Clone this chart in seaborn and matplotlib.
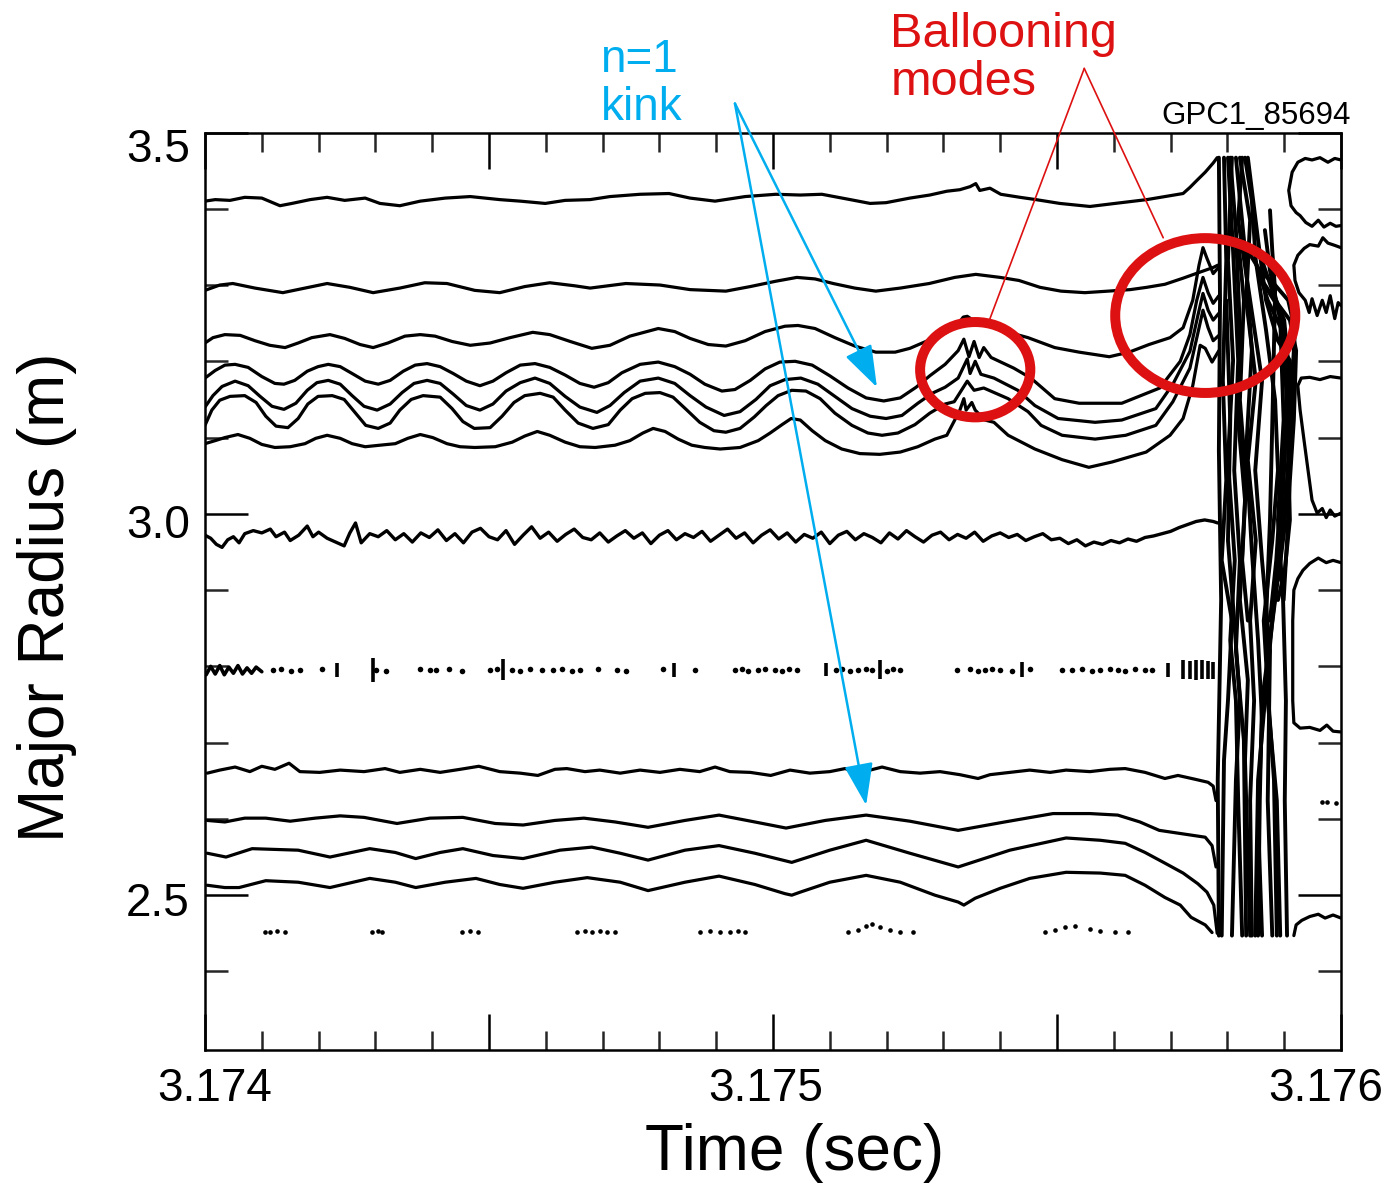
import numpy as np
import pandas as pd
import matplotlib
matplotlib.use("Agg")
import matplotlib.pyplot as plt
import matplotlib.transforms as mtransforms
from matplotlib.patches import Ellipse
from matplotlib.ticker import FixedLocator, FixedFormatter
import seaborn as sns

# ---------------------------------------------------------------------------
# ECE contour traces, shot 85694.  Time is given in microseconds after T0,
# major radius in metres.
# ---------------------------------------------------------------------------
T0 = 3.174

top_t = [0, 18, 44, 70, 100, 132, 153, 185, 215, 246, 282, 308, 343, 379, 423, 467, 519, 555, 599, 634,
         678, 713, 766, 817, 854, 898, 951, 1005, 1048, 1086, 1136, 1171, 1199, 1241, 1276, 1306, 1329,
         1347, 1357, 1364, 1382, 1401, 1435, 1463, 1505, 1558, 1602, 1658, 1690, 1722, 1734, 1746, 1761,
         1775, 1782]
top_r = [3.410, 3.412, 3.411, 3.415, 3.414, 3.404, 3.407, 3.412, 3.415, 3.411, 3.414, 3.407, 3.404, 3.410,
         3.414, 3.416, 3.412, 3.410, 3.407, 3.411, 3.412, 3.416, 3.419, 3.420, 3.414, 3.410, 3.416, 3.419,
         3.418, 3.419, 3.412, 3.407, 3.408, 3.414, 3.418, 3.423, 3.425, 3.429, 3.433, 3.424, 3.427, 3.419,
         3.415, 3.412, 3.407, 3.403, 3.407, 3.412, 3.416, 3.420, 3.428, 3.437, 3.448, 3.460, 3.467]

second_t = [0, 26, 49, 88, 137, 176, 215, 255, 296, 343, 387, 426, 475, 519, 563, 607, 651, 678, 741, 801,
            854, 917, 960, 1005, 1042, 1074, 1106, 1144, 1181, 1224, 1275, 1320, 1357, 1400, 1433, 1470,
            1507, 1549, 1590, 1629, 1658, 1690, 1722, 1752, 1775, 1783]
second_r = [3.293, 3.300, 3.302, 3.296, 3.290, 3.296, 3.302, 3.297, 3.290, 3.296, 3.303, 3.302, 3.293,
            3.290, 3.298, 3.303, 3.299, 3.296, 3.302, 3.300, 3.294, 3.292, 3.298, 3.305, 3.310, 3.308,
            3.302, 3.296, 3.292, 3.296, 3.302, 3.310, 3.314, 3.310, 3.306, 3.297, 3.292, 3.290, 3.292,
            3.294, 3.297, 3.301, 3.309, 3.317, 3.323, 3.326]

kink_a_t = [0, 14, 35, 62, 88, 114, 141, 164, 188, 220, 246, 273, 296, 322, 352, 379, 405, 435, 467, 502,
            537, 577, 607, 643, 681, 713, 748, 798, 827, 854, 886, 917, 951, 986, 1021, 1044, 1074, 1109,
            1144, 1181, 1215, 1241, 1269, 1306, 1326, 1335, 1342, 1350, 1364, 1400, 1449, 1496, 1539,
            1592, 1627, 1662, 1699, 1722, 1739, 1750, 1757, 1764, 1775, 1783]
kink_a_r = [3.224, 3.231, 3.235, 3.234, 3.227, 3.221, 3.218, 3.224, 3.231, 3.235, 3.230, 3.222, 3.218,
            3.224, 3.233, 3.235, 3.233, 3.226, 3.221, 3.224, 3.231, 3.238, 3.235, 3.226, 3.217, 3.221,
            3.233, 3.243, 3.239, 3.230, 3.222, 3.220, 3.227, 3.239, 3.246, 3.247, 3.243, 3.231, 3.220,
            3.212, 3.212, 3.217, 3.226, 3.238, 3.249, 3.258, 3.259, 3.255, 3.251, 3.241, 3.231, 3.218,
            3.212, 3.206, 3.212, 3.222, 3.231, 3.244, 3.280, 3.326, 3.349, 3.335, 3.315, 3.322]

kink_b_t = [0, 18, 35, 53, 76, 100, 123, 139, 158, 180, 199, 217, 238, 259, 282, 305, 326, 349, 370, 391,
            414, 437, 460, 484, 507, 530, 555, 581, 607, 634, 660, 685, 710, 734, 766, 798, 827, 854, 880,
            910, 933, 960, 986, 1012, 1039, 1069, 1100, 1132, 1164, 1195, 1224, 1252, 1276, 1303, 1326,
            1336, 1345, 1354, 1363, 1371, 1384, 1424, 1454, 1496, 1539, 1614, 1681, 1717, 1734, 1746,
            1757, 1766, 1775, 1785]
kink_b_r = [3.178, 3.188, 3.195, 3.196, 3.192, 3.180, 3.171, 3.170, 3.175, 3.187, 3.193, 3.196, 3.193,
            3.184, 3.174, 3.170, 3.175, 3.187, 3.195, 3.197, 3.193, 3.184, 3.174, 3.168, 3.174, 3.185,
            3.195, 3.197, 3.192, 3.182, 3.171, 3.166, 3.172, 3.185, 3.196, 3.199, 3.193, 3.183, 3.170,
            3.161, 3.163, 3.175, 3.190, 3.199, 3.200, 3.195, 3.181, 3.165, 3.152, 3.148, 3.152, 3.166,
            3.181, 3.196, 3.214, 3.229, 3.206, 3.226, 3.205, 3.218, 3.205, 3.191, 3.178, 3.151, 3.145,
            3.145, 3.165, 3.200, 3.235, 3.280, 3.310, 3.290, 3.276, 3.286]

kink_c_t = [0, 14, 30, 53, 76, 97, 118, 139, 160, 180, 197, 217, 238, 259, 280, 303, 326, 347, 368, 391,
            414, 437, 460, 484, 507, 530, 555, 581, 607, 634, 660, 690, 713, 738, 766, 798, 827, 854, 882,
            914, 942, 970, 995, 1021, 1049, 1079, 1109, 1139, 1171, 1199, 1227, 1255, 1280, 1303, 1326,
            1342, 1347, 1356, 1366, 1389, 1431, 1461, 1502, 1567, 1614, 1674, 1704, 1734, 1748, 1757,
            1766, 1775, 1785]
kink_c_r = [3.140, 3.155, 3.167, 3.174, 3.168, 3.154, 3.141, 3.137, 3.145, 3.162, 3.172, 3.175, 3.170,
            3.155, 3.141, 3.136, 3.144, 3.159, 3.171, 3.175, 3.171, 3.157, 3.142, 3.136, 3.144, 3.161,
            3.172, 3.178, 3.171, 3.154, 3.140, 3.133, 3.142, 3.159, 3.174, 3.178, 3.171, 3.155, 3.140,
            3.129, 3.134, 3.150, 3.168, 3.176, 3.178, 3.170, 3.154, 3.138, 3.128, 3.125, 3.129, 3.145,
            3.158, 3.166, 3.178, 3.203, 3.184, 3.200, 3.183, 3.178, 3.162, 3.142, 3.125, 3.120, 3.123,
            3.138, 3.170, 3.213, 3.260, 3.289, 3.267, 3.254, 3.263]

kink_d_t = [0, 12, 26, 44, 70, 90, 107, 125, 146, 164, 181, 199, 224, 245, 264, 283, 305, 326, 343, 363,
            384, 414, 435, 454, 474, 502, 523, 544, 563, 590, 613, 634, 657, 683, 710, 731, 752, 775, 801,
            824, 847, 871, 896, 917, 942, 967, 988, 1009, 1033, 1058, 1083, 1109, 1139, 1167, 1192, 1220,
            1250, 1276, 1303, 1319, 1342, 1354, 1371, 1414, 1449, 1472, 1509, 1567, 1621, 1674, 1704,
            1734, 1748, 1757, 1766, 1775, 1785]
kink_d_r = [3.116, 3.136, 3.149, 3.154, 3.155, 3.146, 3.128, 3.115, 3.113, 3.125, 3.144, 3.154, 3.155,
            3.150, 3.133, 3.116, 3.112, 3.119, 3.136, 3.150, 3.155, 3.153, 3.138, 3.121, 3.112, 3.113,
            3.128, 3.146, 3.155, 3.158, 3.153, 3.136, 3.119, 3.112, 3.117, 3.136, 3.151, 3.158, 3.159,
            3.153, 3.137, 3.120, 3.109, 3.107, 3.112, 3.127, 3.142, 3.155, 3.162, 3.161, 3.151, 3.132,
            3.116, 3.106, 3.103, 3.106, 3.117, 3.132, 3.144, 3.147, 3.174, 3.162, 3.165, 3.151, 3.134,
            3.116, 3.103, 3.098, 3.103, 3.116, 3.147, 3.191, 3.237, 3.267, 3.244, 3.227, 3.234]

kink_e_t = [0, 18, 35, 58, 79, 100, 123, 150, 176, 195, 215, 238, 259, 282, 308, 335, 357, 379, 401, 426,
            449, 475, 511, 541, 563, 585, 607, 634, 660, 687, 722, 748, 771, 789, 810, 833, 857, 880, 907,
            942, 974, 995, 1016, 1032, 1048, 1069, 1092, 1121, 1153, 1188, 1224, 1255, 1285, 1306, 1320,
            1329, 1336, 1340, 1350, 1356, 1373, 1389, 1414, 1461, 1509, 1556, 1597, 1657, 1699, 1722,
            1739, 1752, 1761, 1773, 1785]
kink_e_r = [3.092, 3.096, 3.100, 3.104, 3.099, 3.091, 3.087, 3.088, 3.092, 3.099, 3.103, 3.099, 3.092,
            3.088, 3.090, 3.092, 3.099, 3.104, 3.100, 3.092, 3.088, 3.087, 3.088, 3.094, 3.102, 3.108,
            3.103, 3.094, 3.088, 3.087, 3.090, 3.096, 3.106, 3.112, 3.108, 3.098, 3.090, 3.087, 3.085,
            3.087, 3.096, 3.106, 3.117, 3.125, 3.123, 3.109, 3.096, 3.085, 3.079, 3.078, 3.081, 3.088,
            3.098, 3.103, 3.123, 3.136, 3.151, 3.136, 3.146, 3.136, 3.123, 3.120, 3.103, 3.085, 3.071,
            3.061, 3.068, 3.081, 3.103, 3.125, 3.168, 3.221, 3.217, 3.199, 3.214]

axis_t = [0, 10, 20, 30, 40, 50, 60, 70, 85, 100, 115, 125, 140, 150, 165, 180, 190, 200, 215, 230, 245,
          255, 265, 275, 290, 305, 320, 335, 350, 365, 380, 395, 410, 425, 440, 455, 470, 485, 500, 515,
          530, 545, 560, 575, 590, 605, 620, 635, 650, 665, 680, 695, 710, 725, 740, 755, 770, 785, 800,
          815, 830, 845, 860, 875, 890, 905, 920, 935, 950, 965, 980, 995, 1010, 1025, 1040, 1055, 1070,
          1085, 1100, 1115, 1130, 1145, 1160, 1175, 1190, 1205, 1220, 1235, 1250, 1265, 1280, 1295, 1310,
          1325, 1340, 1355, 1370, 1385, 1400, 1415, 1430, 1445, 1460, 1475, 1490, 1505, 1520, 1535, 1550,
          1565, 1580, 1595, 1610, 1625, 1640, 1655, 1670, 1685, 1700, 1715, 1730, 1745, 1760, 1775, 1783]
axis_r = [2.972, 2.968, 2.960, 2.956, 2.966, 2.970, 2.962, 2.974, 2.978, 2.975, 2.980, 2.970, 2.976,
          2.965, 2.972, 2.984, 2.970, 2.976, 2.968, 2.963, 2.958, 2.975, 2.988, 2.962, 2.974, 2.970,
          2.978, 2.966, 2.974, 2.963, 2.975, 2.969, 2.979, 2.965, 2.974, 2.962, 2.976, 2.981, 2.970,
          2.966, 2.978, 2.960, 2.972, 2.983, 2.968, 2.976, 2.964, 2.973, 2.980, 2.969, 2.966, 2.975,
          2.963, 2.971, 2.978, 2.968, 2.975, 2.961, 2.972, 2.978, 2.966, 2.974, 2.969, 2.977, 2.964,
          2.972, 2.980, 2.968, 2.975, 2.962, 2.972, 2.979, 2.967, 2.975, 2.963, 2.973, 2.968, 2.976,
          2.961, 2.972, 2.977, 2.966, 2.974, 2.969, 2.962, 2.975, 2.967, 2.978, 2.970, 2.963, 2.972,
          2.976, 2.966, 2.973, 2.968, 2.976, 2.964, 2.971, 2.975, 2.969, 2.973, 2.965, 2.970, 2.974,
          2.966, 2.968, 2.961, 2.966, 2.958, 2.963, 2.960, 2.965, 2.962, 2.967, 2.964, 2.969, 2.971,
          2.974, 2.977, 2.982, 2.986, 2.990, 2.992, 2.990, 2.988]

low1_t = [4, 26, 53, 79, 100, 123, 148, 167, 202, 238, 280, 317, 343, 379, 414, 449, 482, 519, 555, 586,
          616, 637, 669, 695, 731, 766, 801, 836, 871, 898, 924, 960, 996, 1030, 1065, 1100, 1127, 1146,
          1171, 1192, 1224, 1259, 1294, 1329, 1361, 1382, 1417, 1452, 1488, 1516, 1558, 1593, 1620, 1655,
          1690, 1713, 1743, 1766, 1775, 1780]
low1_r = [2.660, 2.664, 2.668, 2.662, 2.669, 2.665, 2.673, 2.662, 2.661, 2.664, 2.662, 2.666, 2.661,
          2.665, 2.661, 2.665, 2.669, 2.662, 2.660, 2.657, 2.665, 2.666, 2.662, 2.664, 2.660, 2.664,
          2.661, 2.665, 2.662, 2.668, 2.662, 2.661, 2.657, 2.664, 2.660, 2.662, 2.666, 2.661, 2.664,
          2.668, 2.662, 2.660, 2.662, 2.658, 2.653, 2.658, 2.661, 2.664, 2.661, 2.664, 2.662, 2.665,
          2.666, 2.661, 2.653, 2.657, 2.652, 2.648, 2.643, 2.624]

low2_t = [4, 35, 70, 107, 150, 194, 238, 280, 338, 396, 454, 511, 560, 616, 667, 722, 780, 845, 905, 968,
          1023, 1092, 1164, 1241, 1326, 1408, 1493, 1558, 1607, 1646, 1680, 1725, 1761, 1773, 1780]
low2_r = [2.598, 2.596, 2.601, 2.601, 2.597, 2.601, 2.604, 2.602, 2.594, 2.601, 2.602, 2.594, 2.592,
          2.598, 2.601, 2.596, 2.589, 2.598, 2.605, 2.596, 2.588, 2.598, 2.605, 2.597, 2.585, 2.596,
          2.607, 2.607, 2.605, 2.596, 2.585, 2.580, 2.576, 2.565, 2.537]

low3_t = [4, 37, 83, 123, 164, 220, 290, 335, 371, 414, 454, 507, 560, 625, 681, 731, 780, 845, 905, 968,
          1033, 1100, 1164, 1241, 1326, 1417, 1516, 1576, 1620, 1655, 1690, 1722, 1748, 1764, 1776, 1782]
low3_r = [2.555, 2.550, 2.561, 2.560, 2.559, 2.550, 2.561, 2.556, 2.548, 2.556, 2.561, 2.552, 2.548,
          2.559, 2.563, 2.555, 2.546, 2.559, 2.565, 2.555, 2.543, 2.559, 2.572, 2.555, 2.537, 2.559,
          2.575, 2.572, 2.568, 2.556, 2.542, 2.529, 2.515, 2.504, 2.487, 2.450]

low4_t = [4, 35, 60, 107, 164, 220, 290, 335, 371, 423, 477, 519, 560, 616, 673, 731, 780, 845, 905, 968,
          1021, 1033, 1048, 1100, 1164, 1224, 1285, 1326, 1336, 1356, 1400, 1452, 1516, 1576, 1620, 1655,
          1690, 1717, 1736, 1761, 1773]
low4_r = [2.513, 2.510, 2.510, 2.519, 2.517, 2.510, 2.522, 2.517, 2.510, 2.517, 2.522, 2.514, 2.509,
          2.517, 2.523, 2.517, 2.506, 2.517, 2.525, 2.514, 2.502, 2.500, 2.504, 2.517, 2.526, 2.517,
          2.500, 2.491, 2.487, 2.496, 2.509, 2.522, 2.530, 2.529, 2.526, 2.513, 2.497, 2.487, 2.471,
          2.461, 2.451]

# broken contour near 2.8 m: small islands and a short ragged run at the left edge
row28_run_t = [2, 10, 18, 26, 34, 42, 50, 58, 66, 74, 82, 90, 100]
row28_run_r = [2.789, 2.800, 2.790, 2.801, 2.789, 2.799, 2.791, 2.801, 2.790, 2.798, 2.791, 2.799, 2.793]
row28_dot_t = [120, 134, 151, 167, 206, 301, 319, 379, 396, 407, 430, 452, 502, 514, 540, 555, 572, 593,
               613, 629, 646, 660, 692, 725, 741, 806, 863, 933, 945, 956, 974, 986, 1004, 1016, 1029,
               1042, 1111, 1121, 1136, 1150, 1164, 1174, 1201, 1211, 1224, 1324, 1347, 1361, 1373, 1386,
               1400, 1421, 1452, 1509, 1526, 1544, 1562, 1576, 1593, 1607, 1620, 1637, 1655, 1667]
row28_dot_r = [2.795, 2.796, 2.794, 2.795, 2.796, 2.795, 2.794, 2.796, 2.795, 2.795, 2.796, 2.794, 2.795,
               2.796, 2.795, 2.794, 2.796, 2.795, 2.795, 2.796, 2.794, 2.795, 2.796, 2.795, 2.794, 2.796,
               2.795, 2.795, 2.796, 2.794, 2.795, 2.796, 2.795, 2.794, 2.796, 2.795, 2.795, 2.796, 2.794,
               2.795, 2.796, 2.795, 2.794, 2.796, 2.795, 2.795, 2.796, 2.794, 2.795, 2.796, 2.795, 2.794,
               2.796, 2.795, 2.795, 2.796, 2.794, 2.795, 2.796, 2.795, 2.794, 2.796, 2.795, 2.795]
row28_bar_t = [232, 296, 525, 825, 1093, 1188, 1438, 1695, 1722, 1734, 1745, 1755, 1766, 1775]
row28_bar_lo = [2.786, 2.780, 2.782, 2.786, 2.787, 2.784, 2.786, 2.786, 2.783, 2.784, 2.782, 2.783,
                2.784, 2.783]
row28_bar_hi = [2.805, 2.811, 2.810, 2.805, 2.804, 2.808, 2.806, 2.804, 2.808, 2.807, 2.809, 2.808,
                2.807, 2.806]

# broken contour near 2.45 m
row245_t = [106, 114, 127, 141, 294, 305, 312, 452, 467, 481, 655, 669, 681, 695, 708, 722, 871, 889, 907,
            924, 938, 951, 1132, 1150, 1164, 1174, 1188, 1206, 1224, 1246, 1479, 1496, 1514, 1532, 1558,
            1576, 1602, 1625]
row245_r = [2.452, 2.452, 2.453, 2.452, 2.452, 2.453, 2.452, 2.452, 2.453, 2.452, 2.452, 2.453, 2.452,
            2.453, 2.452, 2.452, 2.452, 2.453, 2.452, 2.452, 2.453, 2.452, 2.452, 2.454, 2.459, 2.462,
            2.458, 2.454, 2.452, 2.452, 2.452, 2.454, 2.458, 2.460, 2.455, 2.453, 2.452, 2.452]

# crash phase: contours sweeping across the whole profile
crash_t = [
    [1785, 1787, 1785, 1789, 1783, 1785],
    [1794, 1798, 1792, 1798, 1790, 1808, 1801, 1794, 1790],
    [1805, 1815, 1822, 1819, 1831, 1822, 1836, 1831, 1840],
    [1815, 1831, 1843, 1833, 1843, 1854, 1861, 1854, 1861],
    [1826, 1819, 1840, 1861, 1849, 1861, 1875, 1871, 1879],
    [1836, 1857, 1884, 1907, 1919, 1914, 1907, 1910, 1901, 1889],
    [1849, 1871, 1896, 1905, 1899, 1893, 1879, 1866, 1854, 1849],
    [1866, 1875, 1893, 1899, 1889, 1898, 1903, 1901, 1905],
    [1875, 1879, 1884, 1880, 1875, 1868, 1871, 1887, 1893],
    [1808, 1801, 1810, 1801, 1813, 1805, 1815, 1819, 1826],
    [1831, 1843, 1850, 1868, 1884, 1889, 1879, 1864, 1871, 1882, 1887],
    [1801, 1810, 1819, 1812, 1822, 1815, 1829, 1833],
    [1836, 1854, 1868, 1889, 1910, 1914, 1903, 1893, 1875, 1861, 1857, 1854],
    [1861, 1884, 1910, 1921, 1917, 1910, 1905, 1899],
    [1822, 1840, 1833, 1850, 1836, 1850, 1840, 1847, 1840, 1843],
    [1798, 1805, 1801, 1812, 1822, 1815, 1808],
    [1861, 1879, 1900, 1910, 1907, 1900, 1889],
    [1871, 1893, 1905, 1903, 1893, 1886, 1875],
    [1819, 1829, 1822, 1833, 1826, 1836],
]
crash_r = [
    [3.467, 3.280, 3.083, 2.887, 2.651, 2.447],
    [3.467, 3.332, 3.175, 3.044, 2.939, 2.860, 2.755, 2.677, 2.447],
    [3.467, 3.372, 3.241, 3.123, 3.018, 2.887, 2.782, 2.677, 2.447],
    [3.467, 3.345, 3.214, 3.083, 2.952, 2.834, 2.729, 2.598, 2.447],
    [3.467, 3.385, 3.280, 3.175, 3.057, 2.939, 2.821, 2.624, 2.447],
    [3.345, 3.319, 3.300, 3.280, 3.241, 3.175, 3.083, 2.992, 2.926, 2.887],
    [3.332, 3.280, 3.241, 3.149, 3.044, 2.952, 2.860, 2.755, 2.651, 2.447],
    [3.372, 3.319, 3.254, 3.123, 2.992, 2.887, 2.755, 2.624, 2.447],
    [3.398, 3.345, 3.293, 3.149, 2.992, 2.860, 2.755, 2.624, 2.447],
    [3.467, 3.332, 3.201, 3.070, 2.939, 2.834, 2.755, 2.624, 2.447],
    [3.467, 3.411, 3.332, 3.241, 3.149, 3.057, 2.965, 2.860, 2.769, 2.651, 2.447],
    [3.467, 3.345, 3.201, 3.057, 2.939, 2.821, 2.703, 2.447],
    [3.467, 3.359, 3.280, 3.227, 3.201, 3.123, 3.018, 2.939, 2.834, 2.755, 2.624, 2.447],
    [3.306, 3.280, 3.254, 3.214, 3.123, 3.044, 2.965, 2.887],
    [3.467, 3.385, 3.280, 3.175, 3.070, 2.965, 2.860, 2.755, 2.624, 2.447],
    [3.280, 3.123, 2.965, 2.860, 2.755, 2.651, 2.447],
    [3.332, 3.293, 3.254, 3.175, 3.070, 2.978, 2.913],
    [3.293, 3.267, 3.214, 3.109, 3.018, 2.939, 2.860],
    [3.359, 3.280, 3.149, 3.044, 2.939, 2.860],
]

# recovered contours after the crash
post_t = [
    [2000, 1989, 1977, 1963, 1949, 1937, 1924, 1914, 1908, 1912, 1921, 1928, 1938, 1949, 1960, 1970, 1981,
     1991, 2000],
    [2000, 1989, 1977, 1968, 1960, 1945, 1935, 1924, 1917, 1919, 1926, 1937, 1944, 1949, 1958, 1967, 1974,
     1981, 1989, 1995, 2000],
    [2000, 1981, 1963, 1945, 1930, 1924, 1928, 1935, 1942, 1949, 1958, 1967, 1974, 1981, 1989, 2000],
    [2000, 1986, 1974, 1960, 1945, 1933, 1924, 1917, 1915, 1915, 1917, 1928, 1945, 1963, 1975, 1986, 2000],
    [2000, 1986, 1972, 1960, 1945, 1931, 1921, 1917],
]
post_r = [
    [3.464, 3.466, 3.461, 3.467, 3.464, 3.466, 3.461, 3.448, 3.424, 3.404, 3.395, 3.391, 3.382, 3.377,
     3.385, 3.376, 3.381, 3.377, 3.378],
    [3.349, 3.352, 3.355, 3.362, 3.351, 3.353, 3.348, 3.339, 3.326, 3.306, 3.290, 3.280, 3.264, 3.282,
     3.260, 3.280, 3.264, 3.286, 3.256, 3.277, 3.273],
    [3.178, 3.180, 3.176, 3.179, 3.178, 3.168, 3.136, 3.096, 3.057, 3.018, 3.001, 3.007, 2.995, 3.005,
     2.997, 3.001],
    [2.936, 2.939, 2.936, 2.942, 2.935, 2.926, 2.915, 2.900, 2.860, 2.755, 2.726, 2.719, 2.720, 2.716,
     2.723, 2.715, 2.714],
    [2.470, 2.474, 2.470, 2.475, 2.472, 2.467, 2.461, 2.447],
]
post_dot_t = [1967, 1975, 1991]
post_dot_r = [2.622, 2.622, 2.621]

# annotation geometry (time in microseconds after T0, radius in m)
kink_from = (933, 3.538)
kink_tips = [(1183, 3.166), (1164, 2.618)]
balloon_from = (1548, 3.584)
balloon_tips = [(1382, 3.256), (1687, 3.362)]
balloon_rings = [  # centre time, centre radius, width (us), height (m)
    (1356, 3.189, 194, 0.125),
    (1761, 3.260, 317, 0.203),
]

BLUE = "#00AEEF"
RED = "#DD1111"
INK = "black"


def sec(us):
    return T0 + np.asarray(us, dtype=float) * 1e-6


def trace(ax, t_us, r, lw=2.3):
    df = pd.DataFrame({"time": sec(t_us), "radius": np.asarray(r, dtype=float)})
    sns.lineplot(data=df, x="time", y="radius", sort=False, estimator=None, color=INK,
                 linewidth=lw, legend=False, ax=ax)


sns.set_style("white")
plt.rcParams["font.family"] = ["Liberation Sans", "DejaVu Sans"]

fig = plt.figure(figsize=(13.91, 11.84), dpi=100)
ax = fig.add_axes([205 / 1391, 1 - 1050 / 1184, 1136 / 1391, 917.5 / 1184])

for t_us, r in [(top_t, top_r), (second_t, second_r), (kink_a_t, kink_a_r), (kink_b_t, kink_b_r),
                (kink_c_t, kink_c_r), (kink_d_t, kink_d_r), (kink_e_t, kink_e_r),
                (low1_t, low1_r), (low2_t, low2_r), (low3_t, low3_r), (low4_t, low4_r)]:
    trace(ax, t_us, r)
trace(ax, axis_t, axis_r, lw=2.4)
trace(ax, row28_run_t, row28_run_r, lw=2.6)
for t_us, r in zip(crash_t, crash_r):
    trace(ax, t_us, r, lw=2.8)
for t_us, r in zip(post_t, post_r):
    trace(ax, t_us, r)

sns.scatterplot(x=sec(row28_dot_t), y=row28_dot_r, s=16, color=INK, marker="o", linewidth=0, ax=ax,
                legend=False)
ax.vlines(sec(row28_bar_t), row28_bar_lo, row28_bar_hi, color=INK, linewidth=2.6)
sns.scatterplot(x=sec(row245_t), y=row245_r, s=11, color=INK, marker="o", linewidth=0, ax=ax,
                legend=False)
sns.scatterplot(x=sec(post_dot_t), y=post_dot_r, s=11, color=INK, marker="o", linewidth=0, ax=ax,
                legend=False)

# axes, ticks and labels
ax.set_xlim(3.174, 3.176)
ax.set_ylim(2.297, 3.5)
ax.xaxis.set_major_locator(FixedLocator([3.174, 3.1745, 3.175, 3.1755, 3.176]))
ax.xaxis.set_major_formatter(FixedFormatter(["3.174", "", "3.175", "", "3.176"]))
ax.xaxis.set_minor_locator(FixedLocator([3.174 + k * 1e-4 for k in range(1, 20)]))
ax.yaxis.set_major_locator(FixedLocator([2.5, 3.0, 3.5]))
ax.yaxis.set_major_formatter(FixedFormatter(["2.5", "3.0", "3.5"]))
ax.yaxis.set_minor_locator(FixedLocator([2.4, 2.6, 2.7, 2.8, 2.9, 3.1, 3.2, 3.3, 3.4]))

ax.tick_params(axis="x", which="major", direction="in", length=26, width=1.8, top=True, bottom=True,
               labelsize=33, pad=12, colors=INK)
ax.tick_params(axis="x", which="minor", direction="in", length=13.5, width=1.8, top=True, bottom=True)
ax.tick_params(axis="y", which="major", direction="in", length=31, width=1.8, left=True, right=True,
               labelsize=33, pad=11, colors=INK)
ax.tick_params(axis="y", which="minor", direction="in", length=16.5, width=1.8, left=True, right=True)
for side in ax.spines.values():
    side.set_linewidth(1.8)
    side.set_color(INK)

ax.set_xlabel("Time (sec)", fontsize=46, color=INK)
ax.set_ylabel("Major Radius (m)", fontsize=46, color=INK)
ax.xaxis.set_label_coords(0.519, -0.080)
ax.yaxis.set_label_coords(-0.1127, 0.4937)

# nudge the end labels so they sit inside the frame edges
x_shift_px = [10, 0, -7, 0, -15]
for tick, dx in zip(ax.xaxis.get_major_ticks(), x_shift_px):
    tick.label1.set_transform(tick.label1.get_transform()
                              + mtransforms.ScaledTranslation(dx / 100, 0, fig.dpi_scale_trans))
y_shift_px = [-4, -7, -12]
for tick, dy in zip(ax.yaxis.get_major_ticks(), y_shift_px):
    tick.label1.set_transform(tick.label1.get_transform()
                              + mtransforms.ScaledTranslation(0, dy / 100, fig.dpi_scale_trans))

# annotations
for tip in kink_tips:
    ax.annotate("", xy=(sec(tip[0]), tip[1]), xytext=(sec(kink_from[0]), kink_from[1]),
                xycoords="data", textcoords="data", annotation_clip=False,
                arrowprops=dict(arrowstyle="-|>,head_length=1.3,head_width=0.45", color=BLUE, lw=1.8,
                                mutation_scale=20, shrinkA=0, shrinkB=0))
for tip in balloon_tips:
    ax.annotate("", xy=(sec(tip[0]), tip[1]), xytext=(sec(balloon_from[0]), balloon_from[1]),
                xycoords="data", textcoords="data", annotation_clip=False,
                arrowprops=dict(arrowstyle="-", color=RED, lw=1.2, shrinkA=0, shrinkB=0))
for tc, rc, w_us, h in balloon_rings:
    ax.add_patch(Ellipse((sec(tc), rc), w_us * 1e-6, h, fill=False, edgecolor=RED, linewidth=7.2,
                         clip_on=False, zorder=5))

fig.text(600 / 1391, 1 - 72 / 1184, "n=1", color=BLUE, fontsize=33, ha="left", va="baseline")
fig.text(601 / 1391, 1 - 120 / 1184, "kink", color=BLUE, fontsize=33, ha="left", va="baseline")
fig.text(890 / 1391, 1 - 47 / 1184, "Ballooning", color=RED, fontsize=35, ha="left", va="baseline")
fig.text(891 / 1391, 1 - 95 / 1184, "modes", color=RED, fontsize=35, ha="left", va="baseline")
fig.text(1351 / 1391, 1 - 124 / 1184, "GPC1_85694", color=INK, fontsize=22.5, ha="right",
         va="baseline")

fig.savefig("out.png", dpi=100, facecolor="white")
